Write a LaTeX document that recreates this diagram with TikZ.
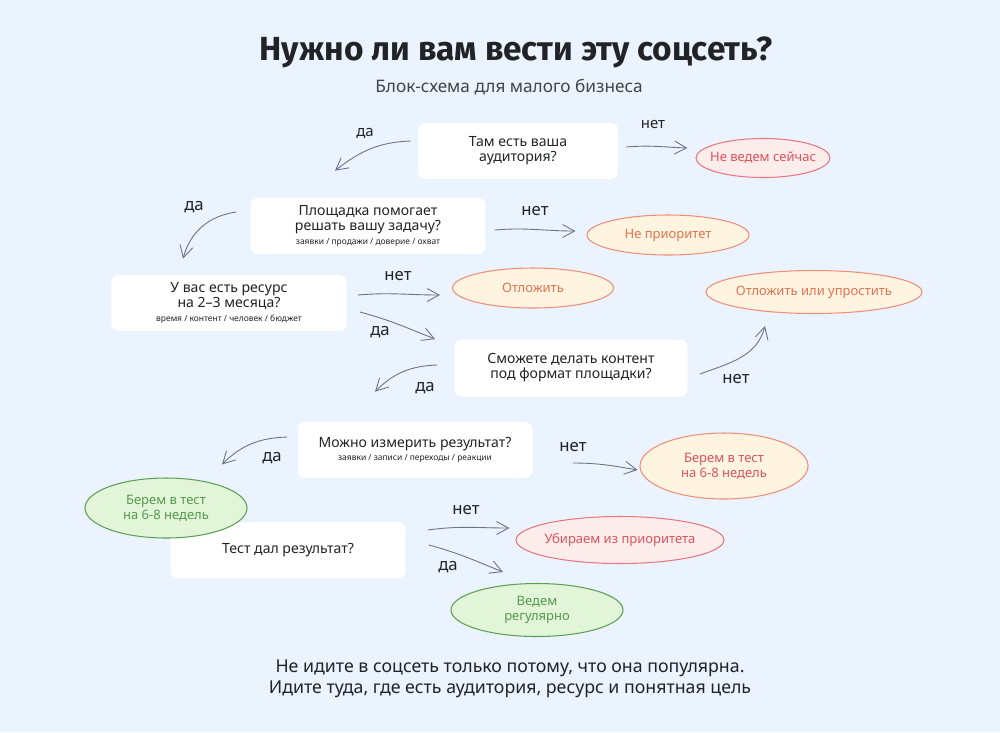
\documentclass[tikz,border=0pt]{standalone}
\usepackage{fontspec}
\setmainfont{Noto Sans}
\newfontfamily\titlefont{Fira Sans}
\usepackage{xcolor}
\usetikzlibrary{arrows.meta,shapes.geometric,calc}

\definecolor{bgblue}{HTML}{EAF3FE}
\definecolor{ink}{HTML}{222326}
\definecolor{arrowgray}{HTML}{6B7385}
\definecolor{redfill}{HTML}{FDECEC}
\definecolor{redline}{HTML}{E8787F}
\definecolor{redtext}{HTML}{D9555C}
\definecolor{orfill}{HTML}{FFF4E0}
\definecolor{orline}{HTML}{EE8E7A}
\definecolor{ortext}{HTML}{E37452}
\definecolor{grfill}{HTML}{E2F5D8}
\definecolor{grline}{HTML}{5E9F56}
\definecolor{grtext}{HTML}{559A4C}

\begin{document}
\begin{tikzpicture}[x=0.2mm, y=-0.2mm,
  q/.style={rectangle, fill=white, rounded corners=1.4mm, align=center,
            text=ink, inner sep=0pt, font=\fontsize{8}{8.6}\selectfont},
  oval/.style={ellipse, inner xsep=-4mm, inner ysep=-1.5mm, align=center,
               line width=0.6pt, font=\fontsize{7.4}{8.4}\selectfont},
  ovred/.style={oval, draw=redline, fill=redfill, text=redtext},
  ovor/.style={oval, draw=orline, fill=orfill, text=ortext},
  ovgr/.style={oval, draw=grline, fill=grfill, text=grtext},
  lbl/.style={text=ink, font=\fontsize{9.5}{10}\selectfont},
  arr/.style={draw=arrowgray, line width=0.5pt,
              -{Straight Barb[length=2.4mm,width=2.6mm]}}
]
  \fill[bgblue] (0,0) rectangle (1000,732);

  \node[text=ink, font=\titlefont\fontsize{19}{22}\selectfont\bfseries] (title) at (516,52)
    {Нужно ли вам вести эту соцсеть?};
  \node[text=ink!85, font=\fontsize{9.8}{11}\selectfont] (sub) at (509,87)
    {Блок-схема для малого бизнеса};

  % questions
  \node[q, minimum width=40mm, minimum height=11.2mm] (q1) at (518,151)
    {Там есть ваша\\аудитория?};
  \node[q, minimum width=47mm, minimum height=11.2mm] (q2) at (368,226)
    {Площадка помогает\\решать вашу задачу?\\[-0.5pt]
     {\fontsize{4.8}{5}\selectfont заявки / продажи / доверие / охват}};
  \node[q, minimum width=47mm, minimum height=11.2mm] (q3) at (229,303)
    {У вас есть ресурс\\на 2–3 месяца?\\[-0.5pt]
     {\fontsize{4.8}{5}\selectfont время / контент / человек / бюджет}};
  \node[q, minimum width=46.6mm, minimum height=11.4mm] (q4) at (571,368)
    {Сможете делать контент\\под формат площадки?};
  \node[q, minimum width=47mm, minimum height=11.2mm] (q5) at (415,450)
    {Можно измерить результат?\\[-1pt]
     {\fontsize{4.8}{5}\selectfont заявки / записи / переходы / реакции}};
  \node[q, minimum width=47mm, minimum height=11.2mm] (q6) at (288,550)
    {Тест дал результат?};

  % outcomes
  \node[ovred, minimum width=26.8mm, minimum height=7.8mm] (r1) at (763,158)
    {Не ведем сейчас};
  \node[ovor, minimum width=32.4mm, minimum height=8mm] (o1) at (668,235)
    {Не приоритет};
  \node[ovor, minimum width=32.2mm, minimum height=8mm] (o2) at (533,288)
    {Отложить};
  \node[ovor, minimum width=43.2mm, minimum height=8.6mm] (o3) at (814,292)
    {Отложить или упростить};
  \node[ovor, text=redtext, minimum width=33.6mm, minimum height=13.2mm] (o4) at (724,466)
    {Берем в тест\\на 6-8 недель};
  \node[ovgr, minimum width=32.4mm, minimum height=12mm] (g1) at (166,508)
    {Берем в тест\\на 6-8 недель};
  \node[ovred, minimum width=41.6mm, minimum height=9.4mm] (r2) at (620,540)
    {Убираем из приоритета};
  \node[ovgr, minimum width=34.4mm, minimum height=10.6mm] (g2) at (537,610)
    {Ведем\\регулярно};

  % connectors
  \draw[arr] ($(q1.west)+(-7,-10)$) to[out=182, in=38] ($(q2.north)+(-33,-27)$);
  \draw[arr] ($(q1.east)+(8,-4)$) to[out=5, in=178] ($(r1.west)+(-8,-10)$);
  \draw[arr] ($(q2.west)+(-14,-14)$) to[out=188, in=75] ($(q3.north)+(-46,-16)$);
  \draw[arr] ($(q2.east)+(9,4)$) to[out=5, in=180] ($(o1.west)+(-11,-4)$);
  \draw[arr] ($(q3.east)+(11,-8)$) to[out=5, in=180] ($(o2.west)+(-12,7)$);
  \draw[arr] ($(q3.east)+(13,9)$) to[out=-15, in=158] ($(q4.north west)+(-19,0)$);
  \draw[arr] ($(q4.west)+(-17,-3)$) to[out=182, in=45] ($(q5.north)+(-40,-30)$);
  \draw[arr] ($(q4.east)+(12,6)$) to[out=20, in=-105] ($(o3.south)+(-49,12)$);
  \draw[arr] ($(q5.west)+(-10,-13)$) to[out=182, in=45] ($(g1.north)+(56,-13)$);
  \draw[arr] ($(q5.east)+(40,13)$) to[out=0, in=170] ($(o4.west)+(-2,4)$);
  \draw[arr] ($(q6.east)+(22,-20)$) to[out=8, in=180] ($(r2.west)+(-6,-12)$);
  \draw[arr] ($(q6.east)+(23,-5)$) to[out=-15, in=158] ($(g2.north)+(-34,-11)$);

  % answers
  \node[lbl, font=\fontsize{8.5}{9}\selectfont] (l1) at (365,133) {да};
  \node[lbl, font=\fontsize{8.5}{9}\selectfont] (l2) at (653,124) {нет};
  \node[lbl] (l3) at (194,207) {да};
  \node[lbl] (l4) at (535,211) {нет};
  \node[lbl] (l5) at (398,276) {нет};
  \node[lbl] (l6) at (380,332) {да};
  \node[lbl] (l7) at (425,388) {да};
  \node[lbl] (l8) at (736,379) {нет};
  \node[lbl] (l9) at (272,458) {да};
  \node[lbl] (l10) at (573,447) {нет};
  \node[lbl] (l11) at (466,510) {нет};
  \node[lbl] (l12) at (448,567) {да};

  \node[text=ink, align=center, font=\fontsize{10.1}{12.2}\selectfont] (foot) at (510,679)
    {Не идите в соцсеть только потому, что она популярна.\\
     Идите туда, где есть аудитория, ресурс и понятная цель};
\end{tikzpicture}
\end{document}
